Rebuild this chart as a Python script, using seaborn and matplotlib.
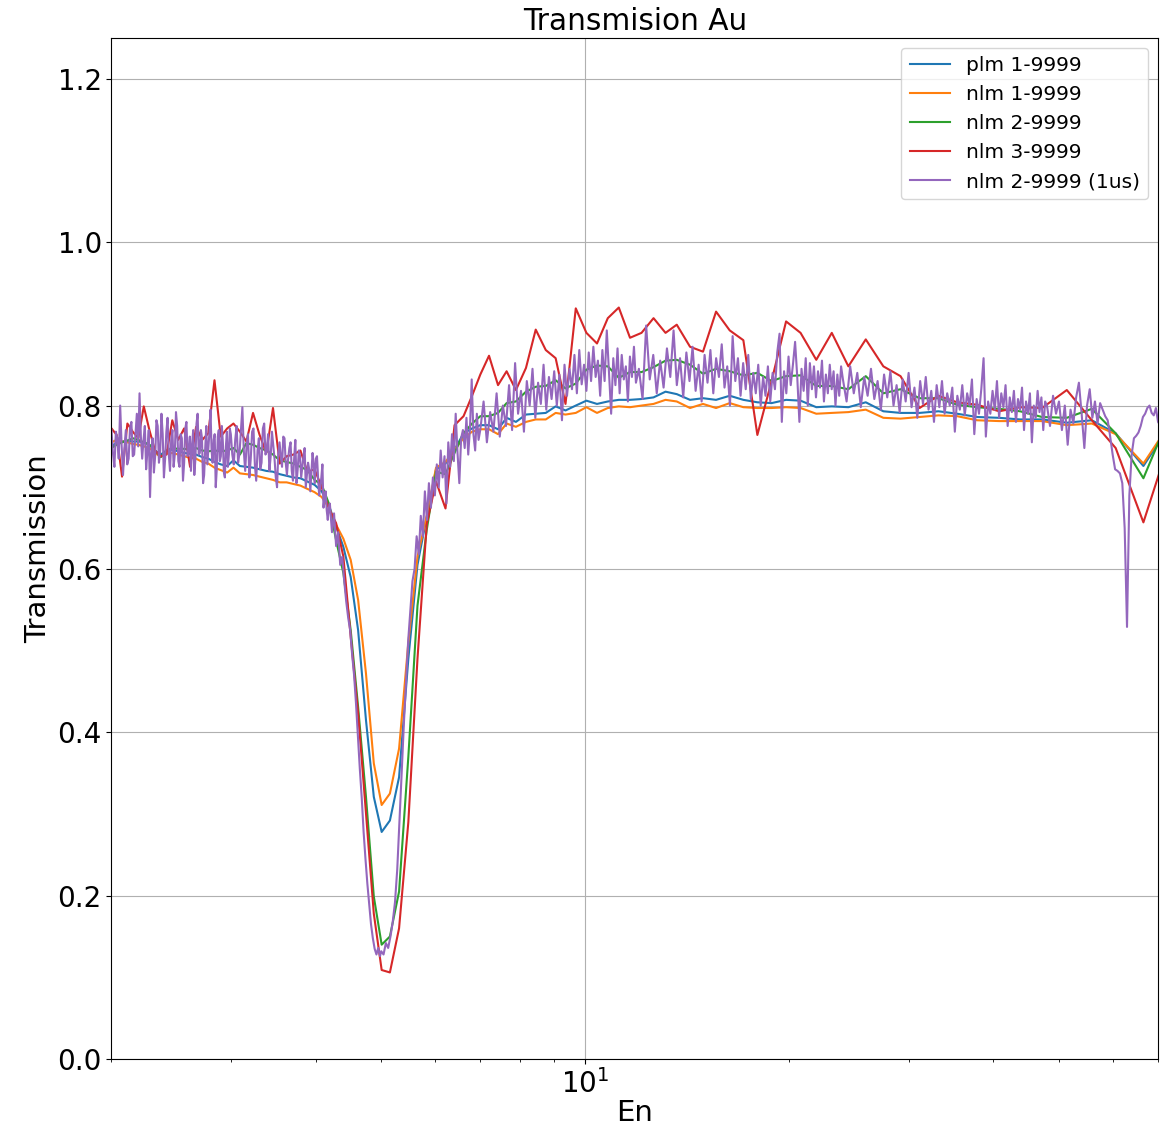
import matplotlib
matplotlib.use("Agg")
import matplotlib.pyplot as plt
from matplotlib.ticker import NullFormatter
import seaborn as sns

# ---------------- data ----------------
# common energy grid of the four smoother curves
energy = [
    2.000, 2.036, 2.073, 2.111, 2.150, 2.191, 2.232, 2.275, 2.319, 2.364,
    2.411, 2.459, 2.509, 2.560, 2.612, 2.666, 2.722, 2.779, 2.838, 2.899,
    2.963, 3.027, 3.094, 3.163, 3.235, 3.308, 3.384, 3.462, 3.542, 3.626,
    3.711, 3.800, 3.891, 3.987, 4.085, 4.186, 4.290, 4.397, 4.508, 4.623,
    4.748, 4.876, 5.008, 5.150, 5.313, 5.483, 5.656, 5.837, 6.024, 6.221,
    6.415, 6.614, 6.808, 7.002, 7.212, 7.436, 7.656, 7.902, 8.176, 8.452,
    8.745, 9.044, 9.352, 9.684, 10.040, 10.408, 10.797, 11.208, 11.643, 12.108,
    12.612, 13.136, 13.647, 14.276, 14.920, 15.596, 16.338, 17.112, 17.946, 18.833,
    19.784, 20.782, 21.922, 23.108, 24.448, 25.936, 27.532, 29.188, 31.138, 33.192,
    35.378, 37.864, 40.796, 43.812, 47.208, 51.346, 55.902, 60.620, 66.608, 73.430,
]

plm_1_9999 = [
    0.750, 0.755, 0.756, 0.757, 0.756, 0.756, 0.755, 0.752, 0.745, 0.740,
    0.745, 0.746, 0.744, 0.742, 0.741, 0.740, 0.737, 0.735, 0.731, 0.728,
    0.726, 0.733, 0.726, 0.725, 0.724, 0.722, 0.720, 0.719, 0.716, 0.714,
    0.712, 0.711, 0.707, 0.703, 0.695, 0.678, 0.652, 0.627, 0.590, 0.525,
    0.415, 0.321, 0.278, 0.292, 0.345, 0.490, 0.605, 0.664, 0.722, 0.729,
    0.746, 0.766, 0.772, 0.776, 0.776, 0.771, 0.785, 0.780, 0.789, 0.790,
    0.791, 0.799, 0.794, 0.800, 0.806, 0.802, 0.805, 0.807, 0.807, 0.808,
    0.810, 0.817, 0.814, 0.807, 0.809, 0.807, 0.812, 0.807, 0.804, 0.803,
    0.807, 0.806, 0.798, 0.799, 0.798, 0.804, 0.793, 0.791, 0.791, 0.793,
    0.790, 0.786, 0.785, 0.783, 0.783, 0.779, 0.782, 0.766, 0.726, 0.780,
]

nlm_1_9999 = [
    0.755, 0.758, 0.756, 0.755, 0.753, 0.752, 0.750, 0.748, 0.742, 0.737,
    0.741, 0.742, 0.740, 0.738, 0.736, 0.735, 0.731, 0.729, 0.724, 0.721,
    0.718, 0.724, 0.717, 0.716, 0.715, 0.713, 0.711, 0.709, 0.706, 0.706,
    0.704, 0.702, 0.698, 0.694, 0.688, 0.675, 0.654, 0.637, 0.611, 0.562,
    0.472, 0.362, 0.311, 0.325, 0.380, 0.510, 0.615, 0.665, 0.724, 0.731,
    0.746, 0.760, 0.768, 0.771, 0.771, 0.765, 0.778, 0.774, 0.780, 0.783,
    0.783, 0.791, 0.789, 0.791, 0.798, 0.791, 0.797, 0.799, 0.798, 0.800,
    0.802, 0.807, 0.805, 0.797, 0.802, 0.797, 0.803, 0.798, 0.797, 0.797,
    0.798, 0.797, 0.790, 0.791, 0.792, 0.795, 0.785, 0.784, 0.786, 0.788,
    0.787, 0.782, 0.781, 0.781, 0.781, 0.776, 0.778, 0.765, 0.729, 0.782,
]

nlm_2_9999 = [
    0.748, 0.752, 0.755, 0.757, 0.760, 0.758, 0.755, 0.752, 0.745, 0.737,
    0.745, 0.748, 0.747, 0.747, 0.746, 0.748, 0.745, 0.744, 0.745, 0.744,
    0.745, 0.748, 0.740, 0.754, 0.752, 0.748, 0.745, 0.740, 0.733, 0.731,
    0.729, 0.725, 0.721, 0.709, 0.703, 0.680, 0.635, 0.595, 0.525, 0.431,
    0.321, 0.199, 0.140, 0.150, 0.205, 0.370, 0.555, 0.648, 0.719, 0.716,
    0.742, 0.766, 0.778, 0.787, 0.787, 0.791, 0.803, 0.805, 0.817, 0.823,
    0.824, 0.831, 0.821, 0.827, 0.844, 0.849, 0.848, 0.834, 0.841, 0.841,
    0.847, 0.855, 0.856, 0.850, 0.839, 0.845, 0.842, 0.837, 0.840, 0.830,
    0.836, 0.837, 0.824, 0.824, 0.820, 0.836, 0.815, 0.820, 0.809, 0.809,
    0.801, 0.798, 0.796, 0.793, 0.786, 0.785, 0.796, 0.766, 0.711, 0.795,
]

nlm_3_9999 = [
    0.772, 0.764, 0.713, 0.778, 0.768, 0.760, 0.799, 0.770, 0.745, 0.738,
    0.740, 0.782, 0.758, 0.772, 0.725, 0.774, 0.758, 0.766, 0.831, 0.762,
    0.772, 0.778, 0.768, 0.756, 0.791, 0.764, 0.742, 0.797, 0.729, 0.738,
    0.740, 0.745, 0.719, 0.722, 0.700, 0.674, 0.656, 0.615, 0.517, 0.423,
    0.301, 0.178, 0.109, 0.106, 0.160, 0.290, 0.490, 0.655, 0.707, 0.674,
    0.776, 0.787, 0.812, 0.838, 0.861, 0.825, 0.842, 0.819, 0.846, 0.893,
    0.868, 0.858, 0.802, 0.919, 0.889, 0.876, 0.907, 0.920, 0.883, 0.889,
    0.907, 0.889, 0.899, 0.872, 0.866, 0.915, 0.892, 0.880, 0.764, 0.830,
    0.903, 0.889, 0.856, 0.889, 0.848, 0.881, 0.848, 0.836, 0.797, 0.812,
    0.804, 0.801, 0.793, 0.798, 0.797, 0.819, 0.782, 0.748, 0.657, 0.766,
]

# noisy 1us series, stored in energy segments
en_1us_a = [2.00, 2.01, 2.02, 2.03, 2.04, 2.05, 2.06, 2.07, 2.08, 2.09,
            2.10, 2.11, 2.12, 2.13, 2.14, 2.15, 2.16, 2.17, 2.18, 2.19,
            2.20, 2.21, 2.22, 2.23, 2.24, 2.25, 2.26, 2.27, 2.28, 2.29,
            2.30, 2.31, 2.32, 2.33, 2.34, 2.35, 2.36, 2.37, 2.38, 2.39,
            2.40, 2.41, 2.42, 2.43, 2.44, 2.45, 2.46, 2.47, 2.48, 2.49,
            2.50, 2.51, 2.52, 2.53, 2.54, 2.55, 2.56, 2.57, 2.58, 2.59,
            2.60, 2.61, 2.62, 2.63, 2.64, 2.65, 2.66, 2.67, 2.68, 2.69,
            2.70, 2.71, 2.72, 2.73, 2.74, 2.75, 2.76, 2.77, 2.78, 2.79,
            2.80, 2.81, 2.82, 2.83, 2.84, 2.85, 2.86, 2.87, 2.88, 2.89,
            2.90, 2.91, 2.92, 2.93, 2.94, 2.95, 2.96, 2.97, 2.98, 2.99]
tr_1us_a = [0.770, 0.742, 0.725, 0.768, 0.760, 0.735, 0.800, 0.752, 0.715, 0.748,
            0.770, 0.728, 0.735, 0.772, 0.780, 0.738, 0.740, 0.765, 0.790, 0.750,
            0.815, 0.762, 0.735, 0.758, 0.775, 0.722, 0.745, 0.770, 0.688, 0.742,
            0.760, 0.718, 0.738, 0.782, 0.775, 0.730, 0.745, 0.790, 0.765, 0.712,
            0.735, 0.768, 0.785, 0.740, 0.720, 0.758, 0.770, 0.725, 0.740, 0.792,
            0.775, 0.732, 0.725, 0.765, 0.760, 0.708, 0.730, 0.772, 0.780, 0.738,
            0.745, 0.762, 0.720, 0.752, 0.770, 0.715, 0.735, 0.778, 0.790, 0.740,
            0.742, 0.770, 0.760, 0.705, 0.715, 0.748, 0.775, 0.728, 0.748, 0.768,
            0.795, 0.745, 0.730, 0.758, 0.765, 0.700, 0.722, 0.762, 0.770, 0.732,
            0.738, 0.775, 0.755, 0.718, 0.712, 0.750, 0.768, 0.725, 0.740, 0.772]

en_1us_b = [3.000, 3.015, 3.030, 3.045, 3.060, 3.075, 3.090, 3.105, 3.120, 3.135,
            3.150, 3.165, 3.180, 3.195, 3.210, 3.225, 3.240, 3.255, 3.270, 3.285,
            3.300, 3.315, 3.330, 3.345, 3.360, 3.375, 3.390, 3.405, 3.420, 3.435,
            3.450, 3.465, 3.480, 3.495, 3.510, 3.525, 3.540, 3.555, 3.570, 3.585,
            3.600, 3.615, 3.630, 3.645, 3.660, 3.675, 3.690, 3.705, 3.720, 3.735,
            3.750, 3.765, 3.780, 3.795, 3.810, 3.825, 3.840, 3.855, 3.870, 3.885,
            3.900, 3.915, 3.930, 3.945, 3.960, 3.975, 3.990, 4.005, 4.020, 4.035,
            4.050, 4.065, 4.080, 4.095, 4.110, 4.125, 4.140, 4.155, 4.170, 4.185,
            4.20, 4.23, 4.26, 4.29, 4.32, 4.35, 4.38, 4.41, 4.44, 4.47,
            4.50, 4.53, 4.56, 4.59, 4.62, 4.65, 4.68, 4.71, 4.74, 4.77,
            4.80, 4.83, 4.86, 4.89, 4.92, 4.95, 4.98]
tr_1us_b = [0.765, 0.740, 0.728, 0.758, 0.775, 0.730, 0.742, 0.770, 0.798, 0.745,
            0.720, 0.752, 0.765, 0.712, 0.735, 0.768, 0.772, 0.728, 0.708, 0.745,
            0.760, 0.722, 0.730, 0.772, 0.778, 0.740, 0.745, 0.765, 0.720, 0.738,
            0.768, 0.752, 0.735, 0.712, 0.700, 0.742, 0.755, 0.738, 0.725, 0.762,
            0.760, 0.730, 0.715, 0.735, 0.748, 0.755, 0.720, 0.708, 0.735, 0.758,
            0.705, 0.722, 0.745, 0.738, 0.712, 0.725, 0.738, 0.748, 0.700, 0.715,
            0.730, 0.722, 0.695, 0.718, 0.742, 0.728, 0.705, 0.735, 0.738, 0.712,
            0.690, 0.700, 0.712, 0.728, 0.675, 0.688, 0.695, 0.672, 0.660, 0.675,
            0.680, 0.645, 0.668, 0.628, 0.645, 0.605, 0.615, 0.585, 0.560, 0.540,
            0.525, 0.495, 0.470, 0.435, 0.395, 0.355, 0.320, 0.278, 0.245, 0.215,
            0.190, 0.165, 0.148, 0.135, 0.128, 0.136, 0.126]

en_1us_c = [5.00, 5.04, 5.08, 5.12, 5.16, 5.20, 5.24, 5.28, 5.32, 5.36,
            5.40, 5.44, 5.48, 5.52, 5.56, 5.60, 5.64, 5.68, 5.72, 5.76,
            5.80, 5.84, 5.88, 5.92, 5.96, 6.00, 6.04, 6.08, 6.12, 6.16,
            6.20, 6.24, 6.28, 6.32, 6.36, 6.40, 6.44, 6.48, 6.52, 6.56,
            6.60, 6.64, 6.68, 6.72, 6.76, 6.80, 6.84, 6.88, 6.92, 6.96]
tr_1us_c = [0.132, 0.128, 0.142, 0.136, 0.150, 0.168, 0.192, 0.232, 0.290, 0.350,
            0.410, 0.462, 0.512, 0.548, 0.585, 0.600, 0.640, 0.618, 0.665, 0.640,
            0.695, 0.660, 0.705, 0.675, 0.712, 0.690, 0.728, 0.700, 0.745, 0.712,
            0.738, 0.680, 0.755, 0.725, 0.765, 0.732, 0.790, 0.742, 0.705, 0.760,
            0.770, 0.748, 0.785, 0.740, 0.772, 0.832, 0.765, 0.745, 0.790, 0.758]

en_1us_d = [7.00, 7.08, 7.16, 7.24, 7.32, 7.40, 7.48, 7.56, 7.64, 7.72,
            7.80, 7.88, 7.96, 8.04, 8.12, 8.20, 8.28, 8.36, 8.44, 8.52,
            8.60, 8.68, 8.76, 8.84, 8.92, 9.00, 9.08, 9.16, 9.24, 9.32,
            9.40, 9.48, 9.56, 9.64, 9.72, 9.80, 9.88, 9.96, 10.04, 10.12,
            10.20, 10.28, 10.36, 10.44, 10.52, 10.60, 10.68, 10.76, 10.84, 10.92,
            11.00, 11.08, 11.16, 11.24, 11.32, 11.40, 11.48, 11.56, 11.64, 11.72,
            11.80, 11.88]
tr_1us_d = [0.770, 0.805, 0.755, 0.792, 0.768, 0.815, 0.762, 0.800, 0.775, 0.825,
            0.770, 0.852, 0.790, 0.818, 0.768, 0.830, 0.800, 0.845, 0.785, 0.828,
            0.802, 0.850, 0.795, 0.835, 0.808, 0.842, 0.800, 0.838, 0.782, 0.850,
            0.812, 0.845, 0.820, 0.862, 0.815, 0.868, 0.826, 0.850, 0.818, 0.865,
            0.830, 0.872, 0.835, 0.855, 0.812, 0.868, 0.830, 0.892, 0.840, 0.790,
            0.858, 0.825, 0.870, 0.815, 0.862, 0.832, 0.848, 0.805, 0.860, 0.835,
            0.872, 0.828]

en_1us_e = [12.00, 12.15, 12.30, 12.45, 12.60, 12.75, 12.90, 13.05, 13.20, 13.35,
            13.50, 13.65, 13.80, 13.95, 14.10, 14.25, 14.40, 14.55, 14.70, 14.85,
            15.00, 15.15, 15.30, 15.45, 15.60, 15.75, 15.90, 16.05, 16.20, 16.35,
            16.50, 16.65, 16.80, 16.95, 17.10, 17.25, 17.40, 17.55, 17.70, 17.85,
            18.00, 18.15, 18.30, 18.45, 18.60, 18.75, 18.90, 19.05, 19.20, 19.35,
            19.50, 19.65, 19.80, 19.95, 20.10, 20.25, 20.40, 20.55, 20.70, 20.85,
            21.00, 21.15, 21.30, 21.45, 21.60, 21.75, 21.90, 22.05, 22.20, 22.35,
            22.50, 22.65, 22.80, 22.95, 23.10, 23.25, 23.40, 23.55, 23.70, 23.85]
tr_1us_e = [0.845, 0.808, 0.898, 0.832, 0.862, 0.815, 0.855, 0.822, 0.870, 0.835,
            0.892, 0.825, 0.858, 0.810, 0.865, 0.830, 0.872, 0.818, 0.850, 0.805,
            0.862, 0.828, 0.868, 0.815, 0.858, 0.835, 0.875, 0.822, 0.848, 0.800,
            0.885, 0.830, 0.858, 0.812, 0.852, 0.820, 0.862, 0.808, 0.840, 0.815,
            0.850, 0.800, 0.835, 0.812, 0.848, 0.805, 0.840, 0.820, 0.865, 0.888,
            0.780, 0.842, 0.815, 0.860, 0.825, 0.850, 0.878, 0.835, 0.780, 0.845,
            0.818, 0.858, 0.800, 0.852, 0.820, 0.848, 0.810, 0.842, 0.822, 0.855,
            0.805, 0.838, 0.815, 0.850, 0.820, 0.842, 0.800, 0.838, 0.812, 0.848]

en_1us_f = [24.0, 24.3, 24.6, 24.9, 25.2, 25.5, 25.8, 26.1, 26.4, 26.7,
            27.0, 27.3, 27.6, 27.9, 28.2, 28.5, 28.8, 29.1, 29.4, 29.7,
            30.0, 30.3, 30.6, 30.9, 31.2, 31.5, 31.8, 32.1, 32.4, 32.7,
            33.0, 33.3, 33.6, 33.9, 34.2, 34.5, 34.8, 35.1, 35.4, 35.7,
            36.0, 36.3, 36.6, 36.9, 37.2, 37.5, 37.8, 38.1, 38.4, 38.7,
            39.0, 39.3, 39.6, 39.9, 40.2, 40.5, 40.8, 41.1, 41.4, 41.7,
            42.0, 42.3, 42.6, 42.9, 43.2, 43.5, 43.8, 44.1, 44.4, 44.7,
            45.0, 45.3, 45.6, 45.9, 46.2, 46.5, 46.8, 47.1, 47.4, 47.7]
tr_1us_f = [0.832, 0.805, 0.848, 0.815, 0.840, 0.798, 0.835, 0.812, 0.845, 0.808,
            0.830, 0.795, 0.838, 0.810, 0.842, 0.800, 0.825, 0.792, 0.832, 0.805,
            0.840, 0.798, 0.822, 0.785, 0.830, 0.802, 0.835, 0.795, 0.818, 0.780,
            0.825, 0.798, 0.830, 0.790, 0.815, 0.800, 0.822, 0.768, 0.812, 0.795,
            0.825, 0.788, 0.815, 0.800, 0.832, 0.765, 0.808, 0.790, 0.820, 0.858,
            0.762, 0.805, 0.790, 0.818, 0.795, 0.830, 0.785, 0.815, 0.798, 0.825,
            0.775, 0.810, 0.792, 0.818, 0.780, 0.808, 0.795, 0.822, 0.770, 0.805,
            0.790, 0.815, 0.755, 0.800, 0.785, 0.818, 0.792, 0.810, 0.770, 0.805]

en_1us_g = [48.0, 48.5, 49.0, 49.5, 50.0, 50.5, 51.0, 51.5, 52.0, 52.5,
            53.0, 53.5, 54.0, 54.5, 55.0, 55.5, 56.0, 56.5, 57.0, 57.5,
            58.0, 58.5, 59.0, 59.5, 60.0, 60.5, 61.0, 61.5, 62.0, 62.5,
            63.0, 63.5, 64.0, 64.5, 65.0, 65.5, 66.0, 66.5, 67.0, 67.5,
            68.0, 68.5, 69.0, 69.5, 70.0, 70.5, 71.0, 71.5, 72.0]
tr_1us_g = [0.800, 0.775, 0.812, 0.790, 0.805, 0.770, 0.800, 0.752, 0.795, 0.778,
            0.810, 0.828, 0.790, 0.748, 0.800, 0.820, 0.785, 0.805, 0.778, 0.803,
            0.795, 0.787, 0.782, 0.762, 0.740, 0.722, 0.720, 0.717, 0.705, 0.650,
            0.529, 0.690, 0.740, 0.760, 0.763, 0.767, 0.775, 0.786, 0.790, 0.797,
            0.800, 0.791, 0.788, 0.797, 0.780, 0.776, 0.790, 0.795, 0.785]

labels = ["plm 1-9999", "nlm 1-9999", "nlm 2-9999", "nlm 3-9999", "nlm 2-9999 (1us)"]
colors = ["#1f77b4", "#ff7f0e", "#2ca02c", "#d62728", "#9467bd"]

# ---------------- plot ----------------
segments = [("a", en_1us_a, tr_1us_a), ("b", en_1us_b, tr_1us_b), ("c", en_1us_c, tr_1us_c),
            ("d", en_1us_d, tr_1us_d), ("e", en_1us_e, tr_1us_e), ("f", en_1us_f, tr_1us_f),
            ("g", en_1us_g, tr_1us_g)]
en_1us, tr_1us = [], []
for nm, xs, ys in segments:
    if len(xs) != len(ys):
        raise ValueError(f"segment {nm}: {len(xs)} vs {len(ys)}")
    en_1us += xs
    tr_1us += ys

fig, ax = plt.subplots(figsize=(11.6, 11.27), dpi=100)
fig.subplots_adjust(left=0.0961, right=0.9983, bottom=0.0603, top=0.9663)

smooth = [plm_1_9999, nlm_1_9999, nlm_2_9999, nlm_3_9999]
for vals, lab, col in zip(smooth, labels[:4], colors[:4]):
    sns.lineplot(x=energy, y=vals, ax=ax, label=lab, color=col,
                 linewidth=1.5, estimator=None, sort=False)
sns.lineplot(x=en_1us, y=tr_1us, ax=ax, label=labels[4], color=colors[4],
             linewidth=1.5, estimator=None, sort=False)

ax.set_xscale("log")
ax.set_xlim(2, 70)
ax.set_ylim(0, 1.25)
ax.set_yticks([0.0, 0.2, 0.4, 0.6, 0.8, 1.0, 1.2])
ax.xaxis.set_minor_formatter(NullFormatter())
ax.grid(True, which="major", color="#b0b0b0", linewidth=0.8)
ax.tick_params(axis="both", which="major", labelsize=20)
ax.set_title("Transmision Au", fontsize=21.3)
ax.set_xlabel("En", fontsize=21, labelpad=0.5)
ax.set_ylabel("Transmission", fontsize=21)
ax.legend(loc="upper right", fontsize=14.5)

fig.savefig("out.png", dpi=100)
